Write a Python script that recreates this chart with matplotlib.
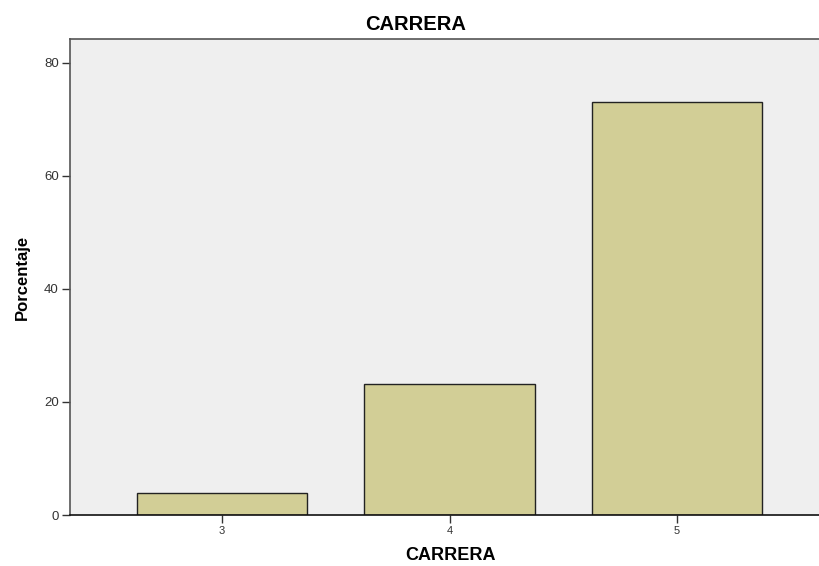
import matplotlib.pyplot as plt

plt.rcParams['font.family'] = ['Liberation Sans', 'DejaVu Sans']

categories = ["3", "4", "5"]
positions = [3, 4, 5]
porcentaje = [3.9, 23.1, 73.0]
yticks = [0, 20, 40, 60, 80]

fig = plt.figure(figsize=(8.19, 5.66), dpi=100)
W, H = 819, 566
ax = fig.add_axes([70 / W, (566 - 515) / H, 759 / W, 476 / H])
ax.set_facecolor("#efefef")

ax.bar(positions, porcentaje, width=0.75, color="#d2ce96", edgecolor="#222222", linewidth=1.0, zorder=2)

ax.set_xlim(2.332, 5.668)
ax.set_ylim(0, 84.2)
ax.set_xticks(positions)
ax.set_xticklabels(categories)
ax.set_yticks(yticks)
ax.tick_params(axis="both", direction="out", length=6, width=1, colors="#333333")
ax.tick_params(axis="y", labelsize=9.5, pad=2)
ax.tick_params(axis="x", labelsize=8, pad=2)

for side in ["top", "left"]:
    ax.spines[side].set_color("#555555")
    ax.spines[side].set_linewidth(1.2)
ax.spines["bottom"].set_color("#111111")
ax.spines["bottom"].set_linewidth(1.2)
ax.spines["right"].set_visible(False)

fig.text(416 / W, 1 - 25 / H, "CARRERA", ha="center", va="center", fontsize=14.5, fontweight="bold")
fig.text(450 / W, 1 - 556 / H, "CARRERA", ha="center", va="center", fontsize=13, fontweight="bold")
fig.text(22 / W, 1 - 277 / H, "Porcentaje", ha="center", va="center", rotation=90, fontsize=12, fontweight="bold")

fig.savefig("out.png", dpi=100)
